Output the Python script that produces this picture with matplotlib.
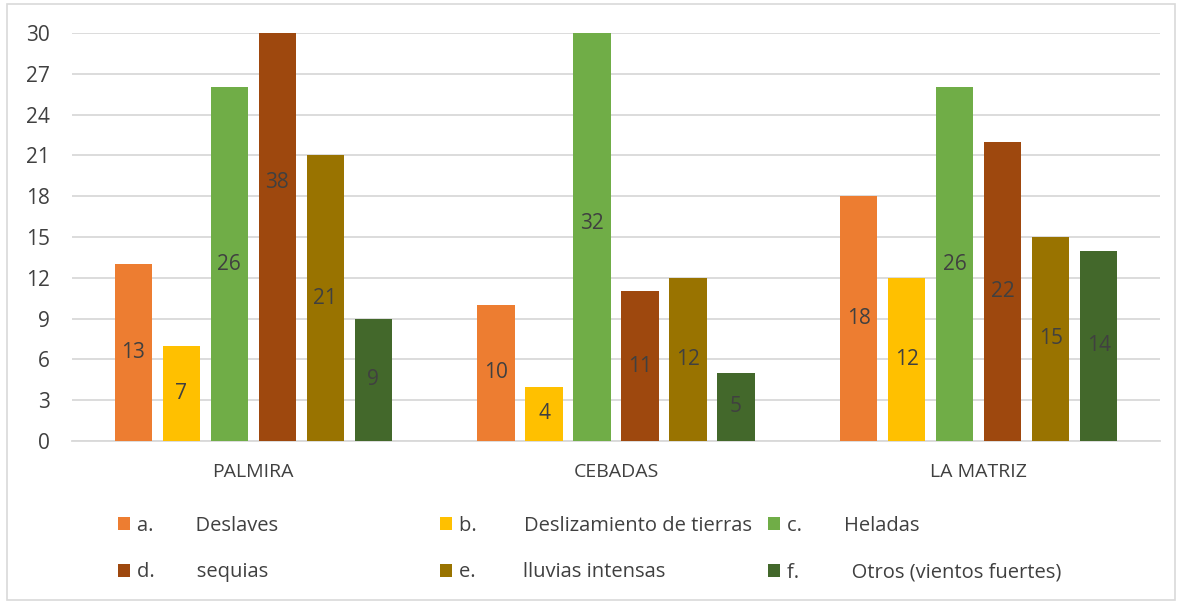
import numpy as np
import matplotlib
matplotlib.use('Agg')
import matplotlib.pyplot as plt
from matplotlib.patches import Rectangle

plt.rcParams['font.family'] = ['Open Sans', 'DejaVu Sans']

categories = ['PALMIRA', 'CEBADAS', 'LA MATRIZ']
series_names = [
    'a.        Deslaves',
    'b.         Deslizamiento de tierras',
    'c.        Heladas',
    'd.        sequias',
    'e.         lluvias intensas',
    'f.          Otros (vientos fuertes)',
]
deslaves = [13, 10, 18]
deslizamiento = [7, 4, 12]
heladas = [26, 32, 26]
sequias = [38, 11, 22]
lluvias = [21, 12, 15]
otros = [9, 5, 14]
y_ticks = [0, 3, 6, 9, 12, 15, 18, 21, 24, 27, 30]

series = [deslaves, deslizamiento, heladas, sequias, lluvias, otros]
colors = ['#ED7D31', '#FFC000', '#70AD47', '#9E480E', '#997300', '#43682B']

W, H = 1182, 603
fig = plt.figure(figsize=(W / 100, H / 100), dpi=100)
fig.patches.append(Rectangle((0.006, 0.005), 0.988, 0.988, transform=fig.transFigure,
                             fill=False, edgecolor='#d9d9d9', linewidth=1.2))
ax = fig.add_axes([72 / W, 1 - 441 / H, 1088 / W, 408 / H])

x = np.arange(len(categories))
pitch = 0.1323
width = 0.1034
handles = []
for i, (vals, col) in enumerate(zip(series, colors)):
    pos = x + (i - 2.5) * pitch
    b = ax.bar(pos, vals, width, color=col, label=series_names[i], zorder=3)
    handles.append(b)
    for p, v in zip(pos, vals):
        ax.text(p, v / 2, str(v), ha='center', va='center', fontsize=15,
                color='#404040', zorder=4)

ax.set_xlim(-0.5, 2.5)
ax.set_ylim(0, 30)
ax.set_yticks(y_ticks)
ax.set_xticks(x)
ax.set_xticklabels(categories)
ax.tick_params(axis='y', length=0, labelsize=15, labelcolor='#404040', pad=16)
ax.tick_params(axis='x', length=0, labelsize=14, labelcolor='#404040', pad=16)
ax.grid(axis='y', color='#d9d9d9', linewidth=1.3, zorder=0)
for s in ['top', 'right', 'left']:
    ax.spines[s].set_visible(False)
ax.spines['bottom'].set_color('#d9d9d9')
ax.spines['bottom'].set_linewidth(1.3)

# legend: three columns placed at fixed positions, two rows each
col_x = [118, 440, 768]
for c, xpix in enumerate(col_x):
    idx = [c, c + 3]
    fig.legend([handles[i] for i in idx], [series_names[i] for i in idx],
               loc='upper left', bbox_to_anchor=(xpix / W, 1 - 516 / H),
               frameon=False, fontsize=14.5, borderpad=0, borderaxespad=0,
               handlelength=0.62, handleheight=0.62, handletextpad=0.3,
               labelspacing=1.3, labelcolor='#404040')

fig.savefig('out.png', dpi=100)
